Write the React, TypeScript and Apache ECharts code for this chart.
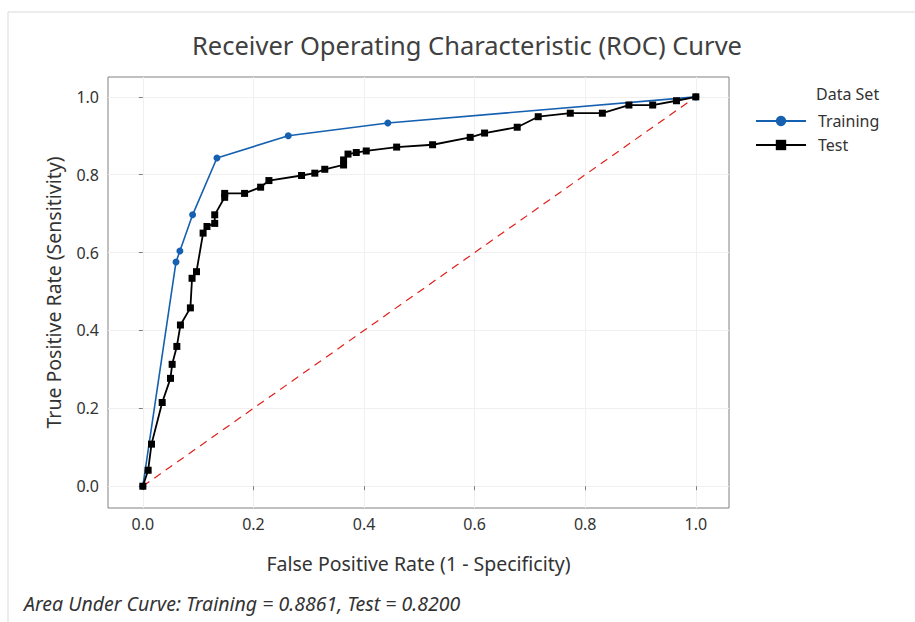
import React, { useEffect, useRef } from "react";
import * as echarts from "echarts";

const titleText = "Receiver Operating Characteristic (ROC) Curve";
const xAxisName = "False Positive Rate (1 - Specificity)";
const yAxisName = "True Positive Rate (Sensitivity)";
const footnote = "Area Under Curve: Training = 0.8861, Test = 0.8200";
const legendTitle = "Data Set";
const seriesNames = ["Training", "Test"];
const tickValues = [0, 0.2, 0.4, 0.6, 0.8, 1.0];

const trainingFPR = [0, 0.06, 0.067, 0.09, 0.134, 0.263, 0.443, 1.0];
const trainingTPR = [0, 0.576, 0.604, 0.697, 0.843, 0.9, 0.933, 1.0];

const testFPR = [
  0, 0.0096, 0.0157, 0.035, 0.05, 0.053, 0.0615, 0.068, 0.086, 0.089, 0.097,
  0.109, 0.116, 0.13, 0.13, 0.148, 0.148, 0.184, 0.213, 0.228, 0.287, 0.311,
  0.329, 0.363, 0.363, 0.371, 0.386, 0.404, 0.459, 0.524, 0.592, 0.618, 0.677,
  0.715, 0.773, 0.831, 0.879, 0.922, 0.965, 1.0,
];
const testTPR = [
  0, 0.041, 0.108, 0.215, 0.277, 0.313, 0.359, 0.414, 0.458, 0.534, 0.551,
  0.65, 0.667, 0.675, 0.697, 0.742, 0.752, 0.752, 0.768, 0.785, 0.798, 0.804,
  0.814, 0.825, 0.838, 0.853, 0.857, 0.861, 0.871, 0.877, 0.896, 0.907, 0.922,
  0.949, 0.958, 0.958, 0.979, 0.979, 0.99, 1.0,
];

const referenceX = [0, 1];
const referenceY = [0, 1];

const FONT = "Noto Sans";

export default function App() {
  const ref = useRef<HTMLDivElement>(null);
  useEffect(() => {
    if (!ref.current) return;
    const chart = echarts.init(ref.current, null, { renderer: "svg" });
    const zip = (a: number[], b: number[]) => a.map((v, i) => [v, b[i]]);
    const axisCommon = {
      type: "value" as const,
      axisLine: { show: false },
      axisTick: {
        show: true,
        length: 4,
        customValues: tickValues,
        lineStyle: { color: "#808080" },
      },
      axisLabel: {
        customValues: tickValues,
        formatter: (v: number) => v.toFixed(1),
        fontFamily: FONT,
        fontSize: 16,
        color: "#333",
      },
      splitLine: { show: true, lineStyle: { color: "#f0f0f0", width: 1 } },
      nameLocation: "middle" as const,
      nameTextStyle: { fontFamily: FONT, fontSize: 19.5, color: "#333" },
    };
    chart.setOption({
      animation: false,
      backgroundColor: "#fff",
      title: {
        text: titleText,
        left: 462,
        top: 27,
        textAlign: "center",
        textStyle: { fontFamily: FONT, fontSize: 25.5, fontWeight: "normal", color: "#404040" },
      },
      grid: {
        left: 108,
        top: 77,
        width: 621,
        height: 431,
        show: true,
        borderColor: "#808080",
        borderWidth: 1,
        backgroundColor: "transparent",
      },
      xAxis: {
        ...axisCommon,
        min: -0.063,
        max: 1.06,
        name: xAxisName,
        nameGap: 45,
        axisLabel: { ...axisCommon.axisLabel, margin: 8 },
      },
      yAxis: {
        ...axisCommon,
        min: -0.056,
        max: 1.051,
        name: yAxisName,
        nameGap: 45,
        axisLabel: { ...axisCommon.axisLabel, margin: 9 },
      },
      legend: {
        orient: "vertical",
        left: 750,
        top: 108,
        itemWidth: 50,
        itemHeight: 13,
        itemGap: 8,
        data: seriesNames,
        textStyle: { fontFamily: FONT, fontSize: 16, color: "#333", padding: [0, 0, 0, 7] },
      },
      graphic: [
        {
          type: "polyline",
          shape: { points: [[8, 622], [8, 12], [915, 12]] },
          style: { stroke: "#d9d9d9", lineWidth: 1, fill: null },
          silent: true,
        },
        {
          type: "text",
          left: 816,
          top: 86,
          style: { text: legendTitle, fontFamily: FONT, fontSize: 16, fill: "#333" },
        },
        {
          type: "text",
          left: 24,
          top: 593,
          style: {
            text: footnote,
            fontFamily: FONT,
            fontSize: 19.5,
            fontStyle: "italic",
            fill: "#333",
          },
        },
      ],
      series: [
        {
          name: "Reference",
          type: "line",
          data: zip(referenceX, referenceY),
          symbol: "none",
          lineStyle: { color: "#e0201c", width: 1.2, type: [8, 6] },
          silent: true,
          z: 1,
        },
        {
          name: seriesNames[0],
          type: "line",
          data: zip(trainingFPR, trainingTPR),
          symbol: "circle",
          symbolSize: 7,
          showAllSymbol: true,
          itemStyle: { color: "#1560b0" },
          lineStyle: { color: "#1560b0", width: 1.6 },
          z: 2,
        },
        {
          name: seriesNames[1],
          type: "line",
          data: zip(testFPR, testTPR),
          symbol: "rect",
          symbolSize: 7,
          showAllSymbol: true,
          itemStyle: { color: "#000" },
          lineStyle: { color: "#000", width: 1.8 },
          z: 3,
        },
      ],
    });
    return () => chart.dispose();
  }, []);
  return (
    <div
      ref={ref}
      style={{ position: "fixed", left: 0, top: 0, width: 915, height: 622 }}
    />
  );
}
